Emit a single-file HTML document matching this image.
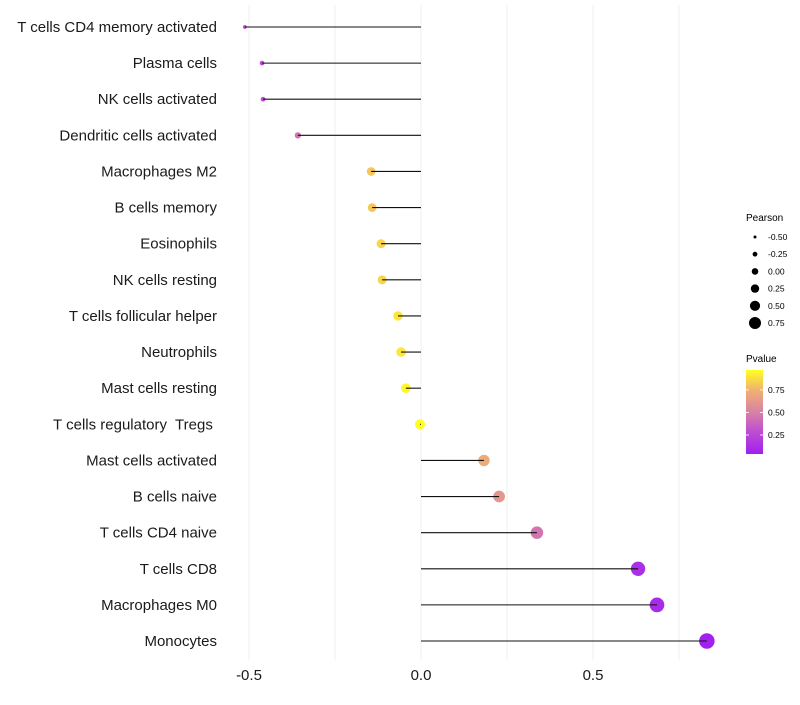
<!DOCTYPE html>
<html><head><meta charset="utf-8"><style>
body{margin:0;background:#fff;font-family:"Liberation Sans",sans-serif}
text{white-space:pre}
</style></head><body>
<svg id="chart" width="800" height="700" xmlns="http://www.w3.org/2000/svg"></svg>
<script>
const categories=["T cells CD4 memory activated","Plasma cells","NK cells activated","Dendritic cells activated","Macrophages M2","B cells memory","Eosinophils","NK cells resting","T cells follicular helper","Neutrophils","Mast cells resting","T cells regulatory  Tregs ","Mast cells activated","B cells naive","T cells CD4 naive","T cells CD8","Macrophages M0","Monocytes"];
const pearson=[-0.512,-0.462,-0.459,-0.358,-0.145,-0.142,-0.116,-0.113,-0.067,-0.058,-0.044,-0.003,0.183,0.227,0.337,0.631,0.686,0.831];
const pvalue=[0.22,0.26,0.28,0.45,0.81,0.81,0.85,0.85,0.9,0.9,0.95,0.99,0.72,0.62,0.45,0.12,0.1,0.05];
const xTicks=[-0.5,0,0.5];
const xTickLabels=["-0.5","0.0","0.5"];
const sizeLegend=[-0.5,-0.25,0,0.25,0.5,0.75];
const colorTicks=[0.25,0.5,0.75];

const svg=document.getElementById('chart');
const NS="http://www.w3.org/2000/svg";
function mk(t,a,p){const e=document.createElementNS(NS,t);for(const k in a)e.setAttribute(k,a[k]);(p||svg).appendChild(e);return e;}
const x=v=>421+v*344;
const y=i=>27+i*(614/17);
const r=v=>Math.sqrt(Math.max(1,25+42*v));
const rl=v=>1.5+(v+0.5)*3.6;
const stops=[[0.04,[160,32,240]],[0.3,[192,80,208]],[0.5,[216,128,168]],[0.75,[240,178,112]],[0.97,[255,255,32]]];
function col(p){if(p<=stops[0][0])return `rgb(${stops[0][1]})`;for(let i=1;i<stops.length;i++){if(p<=stops[i][0]){const a=stops[i-1],b=stops[i],t=(p-a[0])/(b[0]-a[0]);return `rgb(${a[1].map((c,k)=>Math.round(c+(b[1][k]-c)*t)).join(',')})`;}}return `rgb(${stops[stops.length-1][1]})`;}

[-0.5,-0.25,0,0.25,0.5,0.75].forEach(v=>{
 const g=mk('line',{x1:x(v),x2:x(v),y1:5,y2:660,stroke:'#efefef','stroke-width':1});
 
 
});
categories.forEach((c,i)=>{
 const t=mk('text',{x:217,y:y(i)+5,'text-anchor':'end','font-size':15,fill:'#1a1a1a'});
 t.textContent=c;
 
 
 const pt=mk('circle',{cx:x(pearson[i]),cy:y(i),r:r(pearson[i]),fill:col(pvalue[i])});
 
 
 const s=mk('line',{x1:x(0),x2:x(pearson[i]),y1:y(i),y2:y(i),stroke:'#111','stroke-width':1.1});
 
 
});
xTicks.forEach((v,i)=>{
 const t=mk('text',{x:x(v),y:680,'text-anchor':'middle','font-size':15,fill:'#1a1a1a'});
 t.textContent=xTickLabels[i];
 
 
});
const lt=mk('text',{x:746,y:221,'font-size':10,fill:'#000'});lt.textContent='Pearson';


sizeLegend.forEach((v,i)=>{
 const cy=237+i*17.2;
 const c=mk('circle',{cx:755,cy:cy,r:rl(v),fill:'#000'});
 
 
 const t=mk('text',{x:768,y:cy+3,'font-size':8.5,fill:'#000'});t.textContent=v.toFixed(2);
 
 
});
const ct=mk('text',{x:746,y:362,'font-size':10,fill:'#000'});ct.textContent='Pvalue';


const defs=mk('defs',{});
const lg=mk('linearGradient',{id:'cg',x1:0,y1:1,x2:0,y2:0},defs);
stops.forEach(s=>mk('stop',{offset:((s[0]-0.04)/0.93),'stop-color':`rgb(${s[1]})`},lg));
const bar=mk('rect',{x:746,y:370,width:17,height:84,fill:'url(#cg)'});


const cy=p=>454-(p-0.04)/0.93*84;
colorTicks.forEach(v=>{
 mk('line',{x1:746,x2:749,y1:cy(v),y2:cy(v),stroke:'#fff','stroke-width':0.8});
 mk('line',{x1:760,x2:763,y1:cy(v),y2:cy(v),stroke:'#fff','stroke-width':0.8});
 const t=mk('text',{x:768,y:cy(v)+3,'font-size':8.5,fill:'#000'});t.textContent=v.toFixed(2);
 
 
});
</script>
</body></html>
